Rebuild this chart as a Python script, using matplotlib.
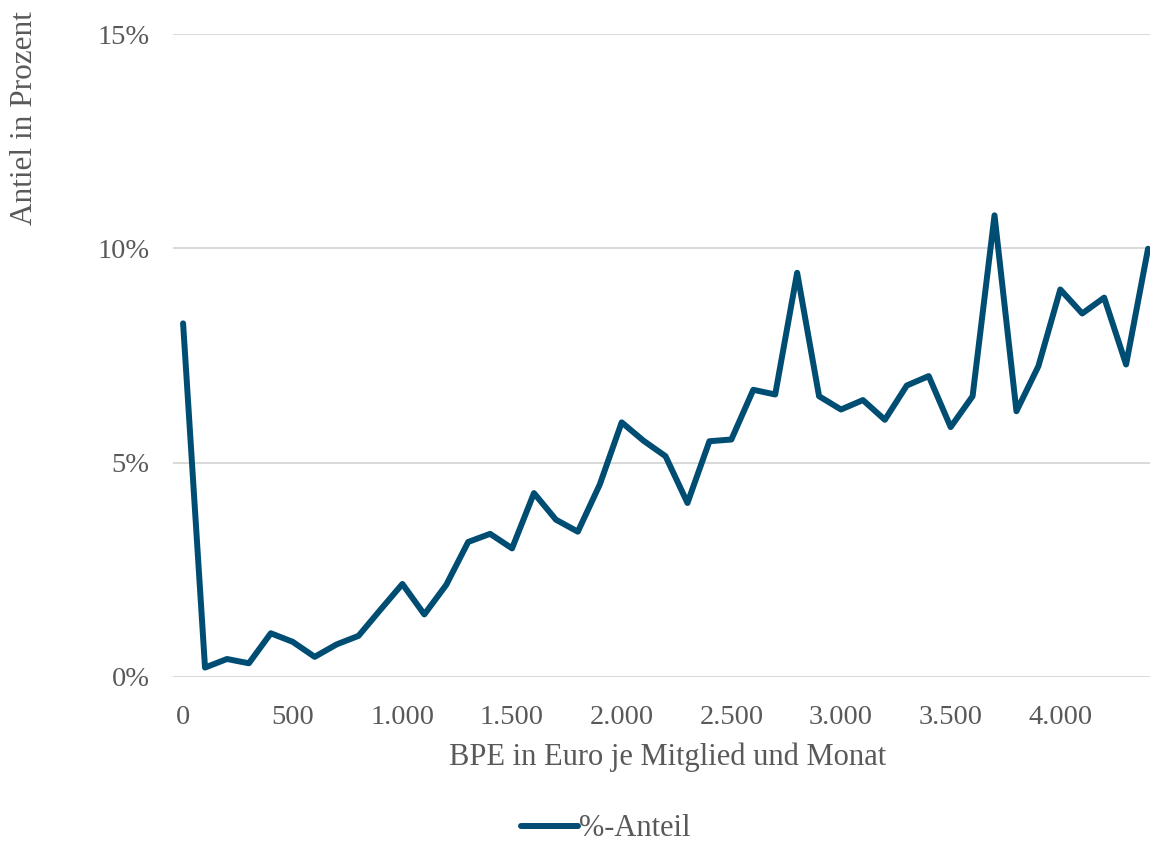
import matplotlib
matplotlib.use("Agg")
import matplotlib.pyplot as plt
from matplotlib.ticker import FuncFormatter

# BPE in Euro je Mitglied und Monat (Klassen in 100-Euro-Schritten)
bpe = list(range(0, 4500, 100))
# Anteil in Prozent
anteil = [8.25, 0.22, 0.42, 0.32, 1.02, 0.82, 0.47, 0.76, 0.96, 1.57,
          2.17, 1.46, 2.15, 3.15, 3.34, 3.00, 4.29, 3.67, 3.39, 4.49,
          5.94, 5.51, 5.15, 4.06, 5.50, 5.54, 6.70, 6.59, 9.43, 6.55,
          6.24, 6.46, 6.00, 6.80, 7.02, 5.83, 6.55, 10.77, 6.20, 7.25,
          9.04, 8.48, 8.85, 7.29, 9.99]

x_ticks = [0, 500, 1000, 1500, 2000, 2500, 3000, 3500, 4000]
y_ticks = [0, 5, 10, 15]

series_label = "%-Anteil"
x_title = "BPE in Euro je Mitglied und Monat"
y_title = "Antiel in Prozent"

text_color = "#595959"
line_color = "#004D74"
grid_color = "#D9D9D9"
font = "Liberation Serif"

plt.rcParams["font.family"] = [font, "DejaVu Serif"]

fig = plt.figure(figsize=(11.5, 8.48), dpi=100)
ax = fig.add_axes([173 / 1150, 1 - 677 / 848, (1150 - 173) / 1150, (677 - 34) / 848])

ax.plot(bpe, anteil, color=line_color, lw=4.3, solid_joinstyle="round",
        solid_capstyle="round", label=series_label, zorder=3)

ax.set_xlim(-46, 4409)
ax.set_ylim(0, 15)
ax.set_xticks(x_ticks)
ax.set_yticks(y_ticks)
ax.xaxis.set_major_formatter(FuncFormatter(lambda v, p: f"{int(v):,}".replace(",", ".")))
ax.yaxis.set_major_formatter(FuncFormatter(lambda v, p: f"{int(v)}%"))

ax.grid(axis="y", color=grid_color, lw=1.4)
ax.set_axisbelow(True)
for s in ax.spines.values():
    s.set_visible(False)
ax.tick_params(axis="both", length=0, labelsize=20.5, labelcolor=text_color)
ax.tick_params(axis="x", pad=20)
ax.tick_params(axis="y", pad=17)

fig.text(668 / 1150, 1 - 757 / 848, x_title, ha="center", va="center",
         fontsize=22, color=text_color)
fig.text(25 / 1150, 1 - 11 / 848, y_title, ha="center", va="top",
         rotation=90, fontsize=22.5, color=text_color)

leg = fig.legend(loc="center", bbox_to_anchor=(606 / 1150, 1 - 829 / 848),
                 frameon=False, fontsize=22, handlelength=1.85, handletextpad=0.05,
                 borderpad=0)
for t in leg.get_texts():
    t.set_color(text_color)

fig.savefig("out.png", dpi=100)
